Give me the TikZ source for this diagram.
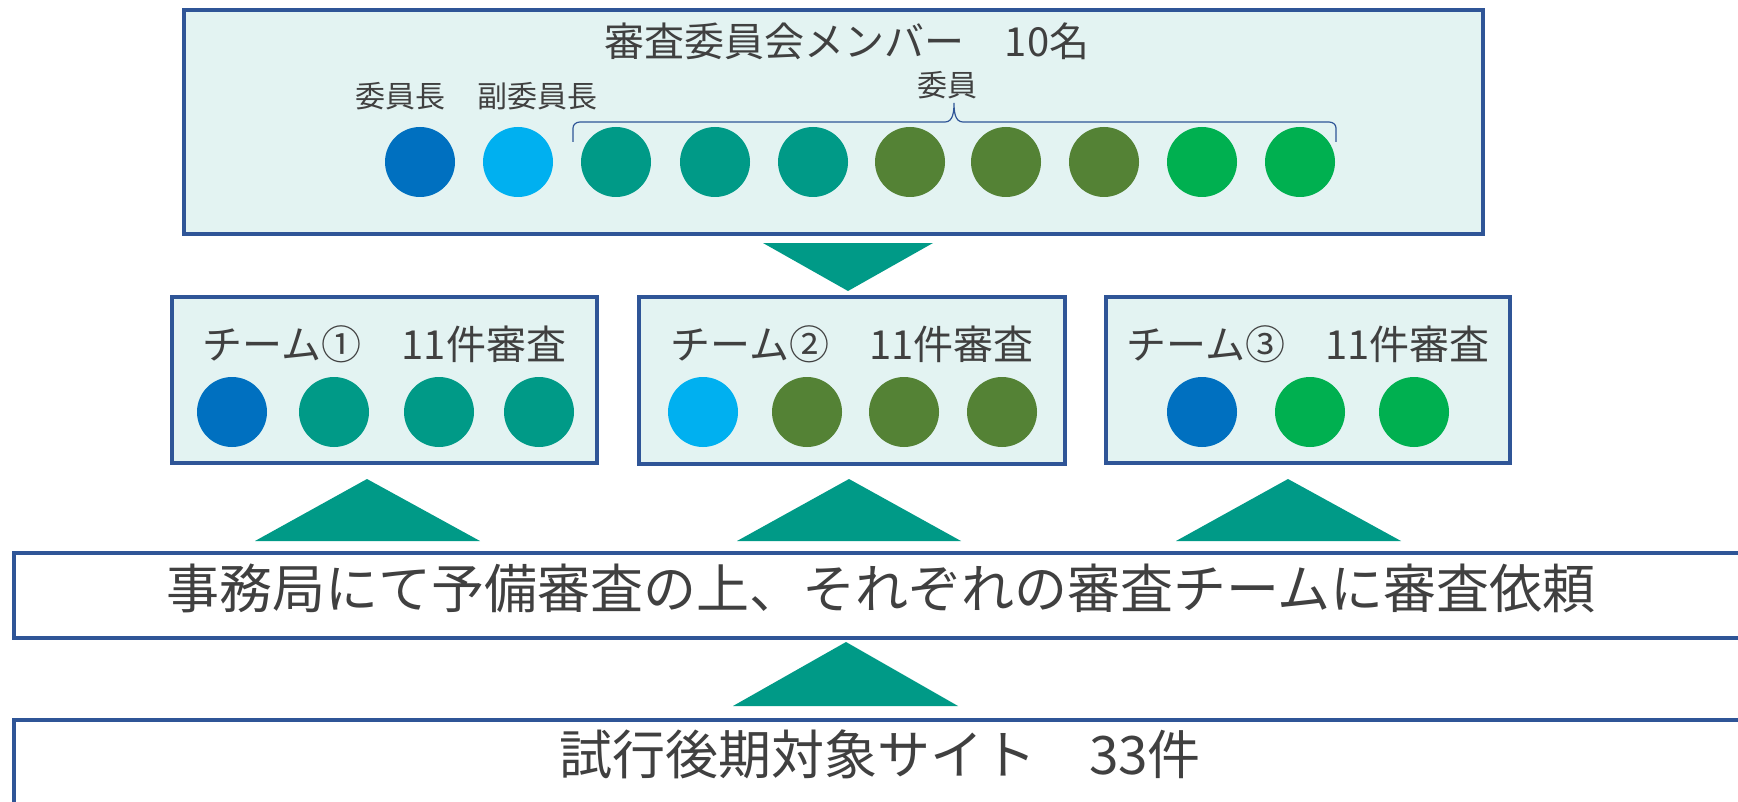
\documentclass[tikz,border=0pt]{standalone}
\usepackage{fontspec}
\newfontfamily\jp{Noto Sans CJK JP}
\usetikzlibrary{fit}
\definecolor{frame}{HTML}{2F5597}
\definecolor{panelfill}{HTML}{E3F3F2}
\definecolor{txtgray}{HTML}{404040}
\definecolor{cblue}{HTML}{0070C0}
\definecolor{clight}{HTML}{00B0F0}
\definecolor{cteal}{HTML}{009A87}
\definecolor{colive}{HTML}{548235}
\definecolor{cgreen}{HTML}{00B050}
\begin{document}
\begin{tikzpicture}[x=0.5pt,y=-0.5pt,
  panel/.style={draw=frame, line width=2pt, fill=panelfill, inner sep=0pt},
  plainbox/.style={draw=frame, line width=1.6pt, fill=white, inner sep=0pt},
  dot/.style={circle, minimum size=35pt, inner sep=0pt, draw=none},
  midtxt/.style={text=txtgray, inner sep=0pt, font=\jp\fontsize{20pt}{24pt}\selectfont},
  smalltxt/.style={text=txtgray, inner sep=0pt, font=\jp\fontsize{15pt}{18pt}\selectfont},
  bigtxt/.style={text=txtgray, inner sep=0pt, font=\jp\fontsize{26.5pt}{30pt}\selectfont},
  tri/.style={fill=cteal, draw=none},
  bracket/.style={draw=frame, line width=0.6pt}]
\useasboundingbox (0,0) rectangle (1738,802);
\clip (0,0) rectangle (1738,802);
\fill[white] (0,0) rectangle (1738,802);

% top panel
\node[panel, fit={(184,10) (1483,234)}] (top) {};
\node[midtxt] (title) at (847,41) {審査委員会メンバー　10名};
\node[smalltxt] (chair) at (400,96) {委員長};
\node[smalltxt] (vice) at (537,96) {副委員長};
\node[smalltxt] (members) at (947,85) {委員};
\node[dot, fill=cblue]  (m1) at (420,162) {};
\node[dot, fill=clight] (m2) at (518,162) {};
\node[dot, fill=cteal]  (m3) at (616,162) {};
\node[dot, fill=cteal]  (m4) at (715,162) {};
\node[dot, fill=cteal]  (m5) at (813,162) {};
\node[dot, fill=colive] (m6) at (910,162) {};
\node[dot, fill=colive] (m7) at (1006,162) {};
\node[dot, fill=colive] (m8) at (1104,162) {};
\node[dot, fill=cgreen] (m9) at (1202,162) {};
\node[dot, fill=cgreen] (m10) at (1300,162) {};
\coordinate (brL) at (573,142);
\coordinate (brR) at (1336,142);
\draw[bracket] (brL) -- (573,128) to[out=90,in=180] (580,122) -- (945,122)
  to[out=0,in=-90] (954,103) to[out=-90,in=180] (963,122) -- (1329,122)
  to[out=0,in=90] (1336,128) -- (brR);

% down triangle
\fill[tri] (763,243) -- (933,243) -- (848,291) -- cycle;

% team panels
\node[panel, fit={(172,297) (597,463)}] (t1) {};
\node[midtxt] (t1lbl) at (384.5,344) {チーム①　11件審査};
\node[dot, fill=cblue] (t1a) at (232,412) {};
\node[dot, fill=cteal] (t1b) at (334,412) {};
\node[dot, fill=cteal] (t1c) at (439,412) {};
\node[dot, fill=cteal] (t1d) at (539,412) {};

\node[panel, fit={(639,297) (1065,464)}] (t2) {};
\node[midtxt] (t2lbl) at (852,344) {チーム②　11件審査};
\node[dot, fill=clight] (t2a) at (703,412) {};
\node[dot, fill=colive] (t2b) at (807,412) {};
\node[dot, fill=colive] (t2c) at (904,412) {};
\node[dot, fill=colive] (t2d) at (1002,412) {};

\node[panel, fit={(1106,297) (1510,463)}] (t3) {};
\node[midtxt] (t3lbl) at (1308,344) {チーム③　11件審査};
\node[dot, fill=cblue]  (t3a) at (1202,412) {};
\node[dot, fill=cgreen] (t3b) at (1310,412) {};
\node[dot, fill=cgreen] (t3c) at (1414,412) {};

% up triangles
\fill[tri] (255,541) -- (480,541) -- (367,479) -- cycle;
\fill[tri] (737,541) -- (961,541) -- (849,479) -- cycle;
\fill[tri] (1176,541) -- (1401,541) -- (1288,479) -- cycle;

% secretariat box
\node[plainbox, fit={(14,553) (1780,638)}] (office) {};
\node[bigtxt] (officetxt) at (881,588) {事務局にて予備審査の上、それぞれの審査チームに審査依頼};

\fill[tri] (733,706) -- (958,706) -- (846,642) -- cycle;

% sites box
\node[plainbox, fit={(14,720) (1780,850)}] (sites) {};
\node[bigtxt] (sitestxt) at (880,754) {試行後期対象サイト　33件};
\end{tikzpicture}
\end{document}
